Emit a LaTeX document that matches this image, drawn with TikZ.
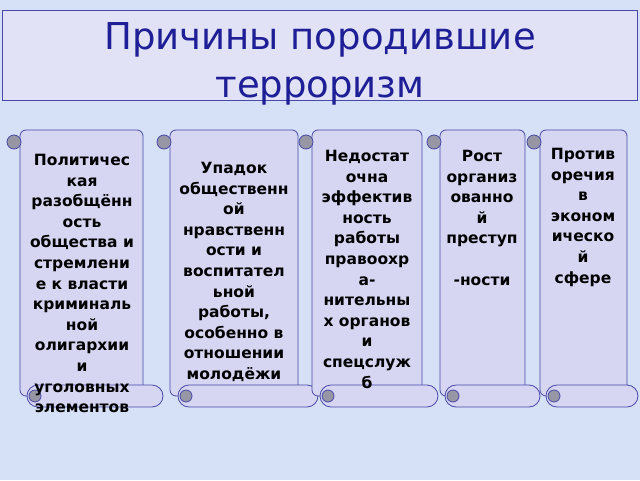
\documentclass[tikz,border=0pt]{standalone}
\usepackage{fontspec}
\setmainfont{DejaVu Sans}
\definecolor{bgblue}{RGB}{214,224,246}
\definecolor{paper}{RGB}{214,214,242}
\definecolor{rim}{RGB}{72,72,168}
\definecolor{titleblue}{RGB}{30,30,150}
\definecolor{curl}{RGB}{150,150,165}
\tikzset{
  body/.style={draw=rim, fill=paper, line width=0.8pt},
  curlend/.style={draw=rim, fill=curl, line width=0.8pt},
  scrolltext/.style={font=\fontsize{15.5}{20.6}\selectfont\bfseries, align=center, anchor=north, inner sep=0pt}
}
% scroll: left, right, top, bottom, roll left, roll right
\newcommand{\scrollbox}[6]{
  \draw[body, rounded corners=6] (#1,#3) -- (#2,#3) -- (#2,#4+6) -- (#1,#4+6) -- cycle;
  \draw[curlend] (#1-6,#3+12) circle (7);
  \draw[body, rounded corners=11] (#5,#4-5) rectangle (#6,#4+17);
  \draw[curlend] (#5+8,#4+6) circle (6);
}
\begin{document}
\begin{tikzpicture}[x=1pt,y=-1pt]
  \useasboundingbox (0,0) rectangle (640,480);
  \fill[bgblue] (0,0) rectangle (640,480);

  % Title
  \node[draw=rim, fill=paper!70!white, minimum width=635, minimum height=90, anchor=north west, inner sep=0pt] (title) at (2,10) {};
  \node[font=\fontsize{37}{48}\selectfont, text=titleblue, align=center] (titletext) at (320,64) {Причины породившие\\терроризм};

  % Scrolls
  \scrollbox{20}{143}{130}{390}{27}{163}
  \scrollbox{170}{298}{130}{390}{178}{318}
  \scrollbox{312}{422}{130}{390}{320}{438}
  \scrollbox{440}{525}{130}{390}{445}{540}
  \scrollbox{540}{627}{130}{390}{546}{638}

  % Texts
  \node[scrolltext] (politics) at (82,154) {Политичес\\кая\\разобщённ\\ость\\общества и\\стремлени\\е к власти\\криминаль\\ной\\олигархии\\и\\уголовных\\элементов};
  \node[scrolltext] (morals) at (234,162) {Упадок\\общественн\\ой\\нравственн\\ости и\\воспитател\\ьной\\работы,\\особенно в\\отношении\\молодёжи};
  \node[scrolltext] (police) at (367,150) {Недостат\\очна\\эффектив\\ность\\работы\\правоохр\\а-\\нительны\\х  органов\\и\\спецслуж\\б};
  \node[scrolltext] (crime) at (482,150) {Рост\\организ\\ованно\\й\\преступ\\\\-ности};
  \node[scrolltext] (economy) at (583,148) {Против\\оречия\\в\\эконом\\ическо\\й\\сфере};
\end{tikzpicture}
\end{document}
